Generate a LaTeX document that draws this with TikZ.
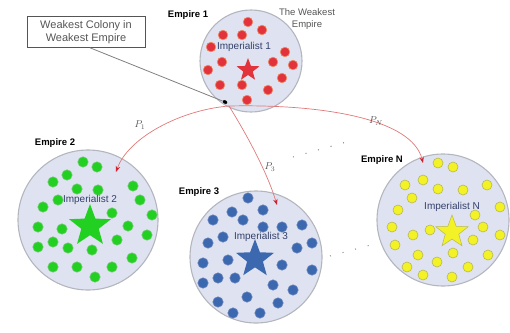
\documentclass[tikz,border=0pt]{standalone}
\usepackage{fontspec}
\setmainfont{Liberation Sans}
\usetikzlibrary{shapes.geometric,arrows.meta}
\definecolor{empfill}{HTML}{DFE3F1}
\definecolor{empgray}{HTML}{B4B6BE}
\definecolor{dred}{HTML}{E2323C}
\definecolor{dredrim}{HTML}{F08A60}
\definecolor{dgreen}{HTML}{22D022}
\definecolor{dgreenrim}{HTML}{70C870}
\definecolor{dblue}{HTML}{3C68B0}
\definecolor{dbluerim}{HTML}{6A84BC}
\definecolor{dyellow}{HTML}{F2F226}
\definecolor{dyellowrim}{HTML}{B8B850}
\definecolor{arrred}{HTML}{E07878}
\definecolor{tipred}{HTML}{D0202E}
\definecolor{imptext}{HTML}{34406A}
\definecolor{graytext}{HTML}{555555}
\begin{document}
\begin{tikzpicture}[x=1pt,y=-1pt,
  empire/.style={circle, draw=empgray, fill=empfill, line width=1.1pt, inner sep=0pt},
  rdot/.style={fill=dred, draw=dredrim, line width=0.6pt},
  gdot/.style={fill=dgreen, draw=dgreenrim, line width=0.6pt},
  bdot/.style={fill=dblue, draw=dbluerim, line width=0.6pt},
  ydot/.style={fill=dyellow, draw=dyellowrim, line width=0.6pt},
  imstar/.style={star, star points=5, star point ratio=2.4, inner sep=0pt},
  emplabel/.style={font=\bfseries\fontsize{9.5}{10}\selectfont, text=black, inner sep=0pt},
  implabel/.style={font=\fontsize{10}{11}\selectfont, text=imptext, inner sep=0pt},
  plabel/.style={text=graytext, inner sep=0pt, font=\fontsize{10}{11}\selectfont},
  move/.style={draw=arrred, line width=0.7pt, -{Stealth[length=6pt,width=4.5pt,color=tipred,fill=tipred]}},
  dots/.style={draw=gray, line width=1pt, dash pattern=on 1pt off 12pt},
]
\useasboundingbox (0,0) rectangle (510,332);

% empires
\node[empire, minimum size=102pt] (e1) at (251,61) {};
\node[empire, minimum size=140pt] (e2) at (88,220) {};
\node[empire, minimum size=132pt] (e3) at (256,257) {};
\node[empire, minimum size=132pt] (eN) at (443,220) {};

% colonies
\foreach \p in {(248,22),(223,35),(242,35),(262,30),(211,47),(222,62),(285,52),(273,62),(293,65),(208,70),(282,78),(220,85),(242,85),(268,90),(247,100)}
  \draw[rdot] \p circle[radius=4.8pt];
\foreach \p in {(83,162),(97,167),(67,175),(53,182),(77,189),(98,190),(133,186),(140,200),(58,200),(43,207),(112,213),(152,215),(38,227),(62,229),(128,226),(147,235),(117,240),(38,247),(53,242),(68,248),(92,250),(132,258),(53,267),(77,267),(112,267),(95,277)}
  \draw[gdot] \p circle[radius=5.2pt];
\foreach \p in {(248,198),(232,212),(263,210),(213,220),(243,220),(263,227),(282,227),(302,225),(208,243),(223,237),(297,248),(312,243),(203,263),(228,260),(282,265),(312,270),(203,283),(218,278),(235,278),(273,285),(293,290),(218,302),(247,297),(278,303),(233,313),(260,313)}
  \draw[bdot] \p circle[radius=5.2pt];
\foreach \p in {(438,163),(453,167),(423,180),(405,185),(438,189),(463,190),(487,185),(412,198),(398,210),(500,207),(475,215),(392,227),(413,235),(430,230),(483,227),(473,240),(500,235),(395,245),(418,255),(437,262),(453,253),(468,267),(488,255),(407,267),(423,275),(452,277)}
  \draw[ydot] \p circle[radius=5pt];

% imperialists
\node[imstar, fill=dred, minimum size=24pt] (s1) at (248,70) {};
\node[imstar, fill=dgreen, minimum size=44pt] (s2) at (90,226) {};
\node[imstar, fill=dblue, minimum size=40pt] (s3) at (255,259) {};
\node[imstar, fill=dyellow, draw=dyellowrim, line width=0.5pt, minimum size=34pt] (sN) at (452,232) {};

\node[implabel] (i1) at (244,47) {Imperialist 1};
\node[implabel] (i2) at (90,200) {Imperialist 2};
\node[implabel] (i3) at (261,237) {Imperialist 3};
\node[implabel] (iN) at (452,207) {Imperialist N};

% empire labels
\node[emplabel] (l1) at (188,15) {Empire 1};
\node[emplabel] (l2) at (55,143) {Empire 2};
\node[emplabel] (l3) at (199,192) {Empire 3};
\node[emplabel] (lN) at (382,160) {Empire N};

\node[text=graytext, font=\fontsize{9.5}{11.5}\selectfont, align=center, inner sep=0pt] (weak) at (307,19) {The Weakest\\Empire};

% weakest colony
\node[draw=graytext, line width=0.6pt, text=graytext, font=\fontsize{11}{13}\selectfont, align=center, minimum width=118pt, minimum height=31pt, inner sep=1pt] (box) at (86,32) {Weakest Colony in\\Weakest Empire};
\node[ellipse, fill=black, minimum width=5pt, minimum height=3.5pt, inner sep=0pt, rotate=-25] (wc) at (225,102) {};
\draw[draw=gray, line width=0.8pt] (box.south) ++(4,0) coordinate (bs) -- (wc);

% movements
\coordinate (src) at (229,106);
\coordinate (t2) at (116,172);
\coordinate (t3) at (277,205);
\coordinate (tN) at (423,163);
\draw[move] (src) .. controls (180,110) and (128,138) .. (t2);
\draw[move] (src) .. controls (250,140) and (268,175) .. (t3);
\draw[move] (src) .. controls (320,104) and (412,118) .. (tN);

\node[plabel] (p1) at (140,125) {$P_1$};
\node[plabel] (p3) at (270,167) {$P_3$};
\node[plabel] (pN) at (376,121) {$P_N$};

% dotted continuation
\coordinate (d1a) at (293,157);
\coordinate (d1b) at (350,141);
\coordinate (d2a) at (330,256);
\coordinate (d2b) at (378,243);
\draw[dots] (d1a) -- (d1b);
\draw[dots] (d2a) -- (d2b);
\end{tikzpicture}
\end{document}
